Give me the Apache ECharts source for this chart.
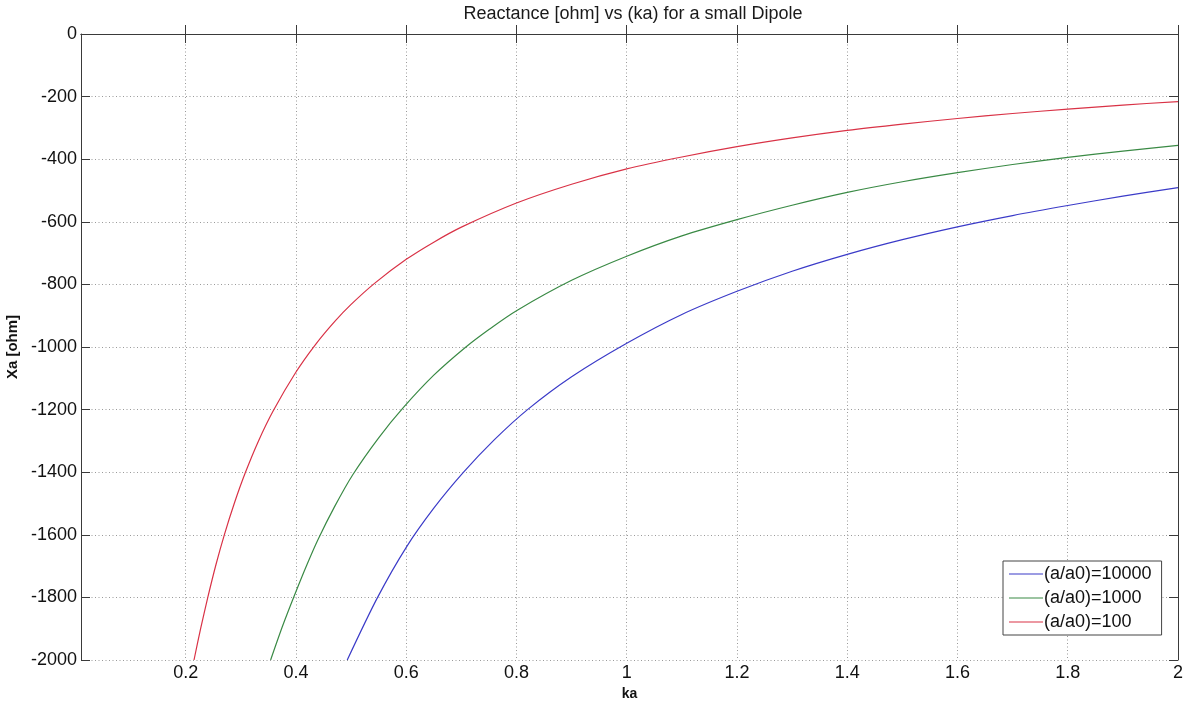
<!DOCTYPE html>
<html>
<head>
<meta charset="utf-8">
<title>Reactance vs ka</title>
<script src="https://cdn.jsdelivr.net/npm/echarts@6/dist/echarts.min.js"></script>
<style>
  html, body { margin: 0; padding: 0; background: #fff; }
  #chart { width: 1187px; height: 702px; }
</style>
</head>
<body>
<div id="chart"></div>
<script>
// Reactance of a small dipole, Xa [ohm], sampled along ka for three radius ratios
const kaTicks = [0.2, 0.4, 0.6, 0.8, 1, 1.2, 1.4, 1.6, 1.8, 2];
const yTicks = [0, -200, -400, -600, -800, -1000, -1200, -1400, -1600, -1800, -2000];

const ka10000 = [0.493, 0.548, 0.6, 0.65, 0.704, 0.76, 0.82, 0.9, 1.0, 1.1, 1.2, 1.3, 1.4, 1.5, 1.6, 1.7, 1.8, 1.9, 2.0];
const xa10000 = [-2000, -1800, -1640, -1515, -1400, -1296, -1200, -1095, -988, -896, -822, -758, -704, -657, -616, -580, -548, -518, -491];

const ka1000 = [0.354, 0.376, 0.398, 0.42, 0.44, 0.47, 0.503, 0.55, 0.595, 0.65, 0.706, 0.75, 0.8, 0.9, 1.0, 1.1, 1.2, 1.3, 1.4, 1.5, 1.6, 1.7, 1.8, 1.9, 2.0];
const xa1000 = [-2000, -1890, -1790, -1695, -1615, -1510, -1408, -1290, -1193, -1090, -1003, -944, -884, -787, -710, -645, -593, -547, -506, -472, -443, -417, -394, -374, -356];

const ka100 = [0.215, 0.227, 0.24, 0.255, 0.27, 0.288, 0.308, 0.332, 0.359, 0.4, 0.435, 0.47, 0.5, 0.543, 0.6, 0.65, 0.7, 0.8, 0.9, 1.0, 1.1, 1.2, 1.3, 1.4, 1.5, 1.6, 1.7, 1.8, 1.9, 2.0];
const xa100 = [-2000, -1900, -1800, -1694, -1600, -1500, -1402, -1300, -1203, -1080, -993, -919, -864, -796, -720, -665, -617, -540, -480, -431, -393, -360, -332, -308, -288, -270, -254, -240, -227, -216];

const seriesNames = ['(a/a0)=10000', '(a/a0)=1000', '(a/a0)=100'];
const seriesColors = ['#3b3bc8', '#3a8a45', '#d93246'];

const pairs = (xs, ys) => xs.map((x, i) => [x, ys[i]]);
const curves = [pairs(ka10000, xa10000), pairs(ka1000, xa1000), pairs(ka100, xa100)];

const FONT = '"Liberation Sans", Arial, sans-serif';
const AXIS_COLOR = '#3a3a3a';
const gridLine = { show: true, lineStyle: { color: '#9a9a9a', width: 1, type: [1, 2.5] } };
const tick = { show: true, inside: true, length: 9, lineStyle: { color: AXIS_COLOR, width: 1 } };

const chart = echarts.init(document.getElementById('chart'), null, { renderer: 'canvas' });

chart.setOption({
  animation: false,
  backgroundColor: '#ffffff',
  title: {
    text: 'Reactance [ohm] vs (ka) for a small Dipole',
    left: 628, top: 0, textAlign: 'center',
    textStyle: { fontFamily: FONT, fontSize: 18, fontWeight: 'normal', color: '#1a1a1a' }
  },
  grid: { left: 81, right: 9, top: 34, bottom: 42, containLabel: false, outerBoundsMode: 'none' },
  legend: {
    left: 1003, top: 561,
    orient: 'vertical',
    backgroundColor: '#ffffff',
    borderColor: '#444', borderWidth: 1,
    padding: [4, 10, 4, 6],
    itemGap: 6,
    itemWidth: 34, itemHeight: 18,
    textStyle: { fontFamily: FONT, fontSize: 18, color: '#111', padding: [0, 0, 0, -4] },
    data: seriesNames.map(n => ({ name: n, icon: 'path://M0,0 L34,0 L34,1 L0,1 Z' }))
  },
  xAxis: [
    {
      type: 'value', min: 0.01, max: 2,
      name: 'ka', nameLocation: 'middle', nameGap: 25,
      nameTextStyle: { fontFamily: FONT, fontSize: 14, fontWeight: 'bold', color: '#111' },
      axisLine: { show: true, lineStyle: { color: AXIS_COLOR, width: 1 } },
      axisTick: Object.assign({ customValues: kaTicks }, tick),
      axisLabel: { customValues: kaTicks, fontFamily: FONT, fontSize: 18, color: '#111', margin: 4 },
      splitLine: gridLine
    },
    {
      type: 'value', min: 0.01, max: 2, position: 'top',
      axisLine: { show: true, onZero: false, lineStyle: { color: AXIS_COLOR, width: 1 } },
      axisTick: Object.assign({ customValues: kaTicks }, tick),
      axisLabel: { show: false },
      splitLine: { show: false }
    }
  ],
  yAxis: [
    {
      type: 'value', min: -2000, max: 0, interval: 200,
      name: 'Xa [ohm]', nameLocation: 'middle', nameGap: 60, nameRotate: 90,
      nameTextStyle: { fontFamily: FONT, fontSize: 15, fontWeight: 'bold', color: '#111' },
      axisLine: { show: true, lineStyle: { color: AXIS_COLOR, width: 1 } },
      axisTick: tick,
      axisLabel: {
        fontFamily: FONT, fontSize: 18, color: '#111', margin: 4,
        formatter: v => String(v)
      },
      splitLine: gridLine
    },
    {
      type: 'value', min: -2000, max: 0, interval: 200, position: 'right',
      axisLine: { show: true, onZero: false, lineStyle: { color: AXIS_COLOR, width: 1 } },
      axisTick: tick,
      axisLabel: { show: false },
      splitLine: { show: false }
    }
  ],
  series: curves.map((data, i) => ({
    name: seriesNames[i],
    type: 'line',
    data: data,
    smooth: 0.3,
    symbol: 'none',
    clip: true,
    color: seriesColors[i],
    lineStyle: { color: seriesColors[i], width: 1.2 }
  }))
});
</script>
</body>
</html>
